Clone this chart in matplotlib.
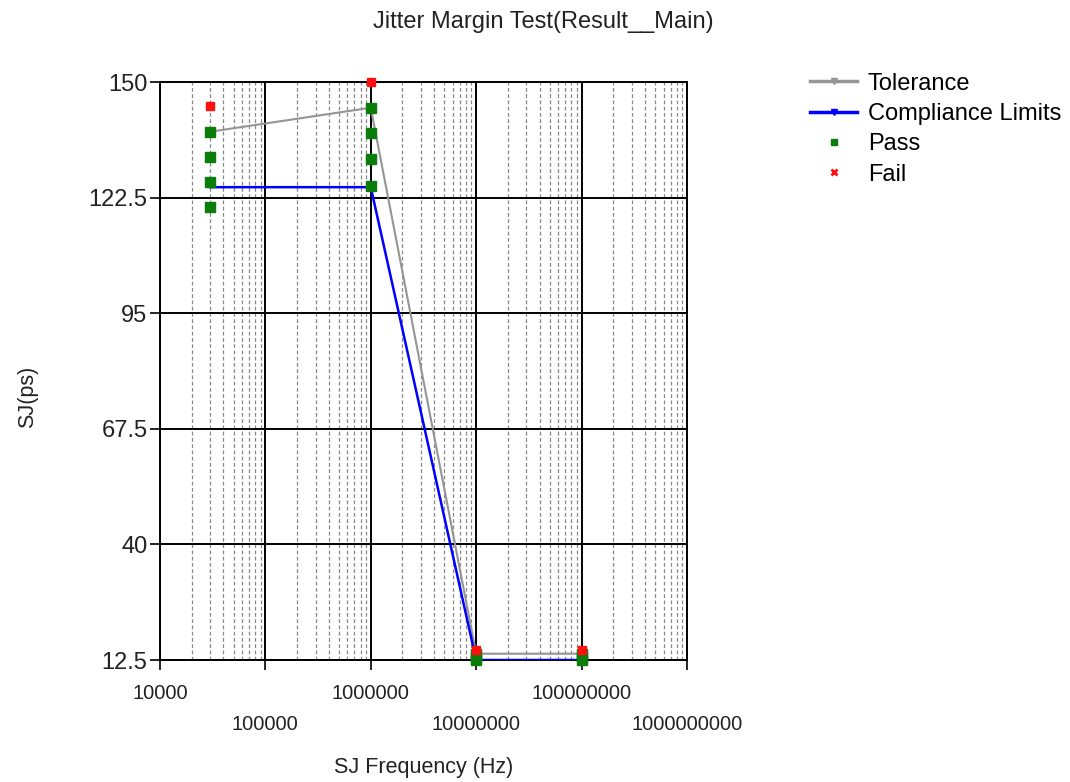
import matplotlib
matplotlib.use("Agg")
import matplotlib.pyplot as plt
from matplotlib.lines import Line2D
from matplotlib.ticker import LogLocator, NullFormatter

plt.rcParams['font.family'] = ['Liberation Sans', 'DejaVu Sans']

##### data
freq = [3e4, 1e6, 1e7, 1e8]
tolerance = [138.2, 143.9, 14.0, 14.0]
compliance = [125.0, 125.0, 12.5, 12.5]

pass_freq = [3e4, 3e4, 3e4, 3e4, 1e6, 1e6, 1e6, 1e6, 1e7, 1e7, 1e7, 1e8, 1e8, 1e8]
pass_sj = [120.2, 126.3, 132.1, 138.2, 125.2, 131.6, 137.8, 143.9,
           12.5, 13.3, 14.0, 12.5, 13.3, 14.0]
fail_freq = [3e4, 1e6, 1e7, 1e8]
fail_sj = [144.3, 150.0, 14.8, 14.8]

y_ticks = [12.5, 40, 67.5, 95, 122.5, 150]
x_ticks = [1e4, 1e5, 1e6, 1e7, 1e8, 1e9]
x_labels = ["10000", "\n100000", "1000000", "\n10000000", "100000000", "\n1000000000"]

##### plot
fig = plt.figure(figsize=(10.7, 7.82), dpi=100)
ax = fig.add_axes([0.1495, 0.156, 0.4925, 0.739])

ax.plot(freq, tolerance, color="#959595", lw=1.5, zorder=3)
ax.plot(freq, compliance, color="#0000ff", lw=1.8, zorder=3)
ax.plot(pass_freq, pass_sj, ls="none", marker="s", ms=6.5, color="#0a7d0a", zorder=4, clip_on=False)
ax.plot(fail_freq, fail_sj, ls="none", marker="s", ms=6, color="#ff1010", zorder=5, clip_on=False)

ax.set_xscale("log")
ax.set_xlim(1e4, 1e9)
ax.set_ylim(12.5, 150)
ax.set_yticks(y_ticks)
ax.set_yticklabels([f"{v:g}" for v in y_ticks])
ax.set_xticks(x_ticks)
ax.set_xticklabels(x_labels)
ax.xaxis.set_minor_locator(LogLocator(base=10, subs=range(2, 10)))
ax.xaxis.set_minor_formatter(NullFormatter())

ax.grid(True, which="major", color="black", lw=1.4)
ax.grid(True, which="minor", axis="x", color="#888888", lw=0.9, ls=(0, (3, 2)))
ax.set_axisbelow(True)
for s in ax.spines.values():
    s.set_color("black")
    s.set_linewidth(1.4)

ax.tick_params(axis="y", which="major", length=7, width=1.2, labelsize=17, pad=2, labelcolor="#222222")
ax.tick_params(axis="x", which="major", length=7, width=1.2, labelsize=14.5, pad=10, labelcolor="#222222")
ax.tick_params(axis="x", which="minor", length=0)
for lab in ax.get_xticklabels():
    lab.set_linespacing(1.85)

ax.set_xlabel("SJ Frequency (Hz)", fontsize=15.5, color="#222222")
ax.xaxis.set_label_coords(0.5, -0.168)
ax.set_ylabel("SJ(ps)", fontsize=15.5, color="#222222")
ax.yaxis.set_label_coords(-0.232, 0.455)
fig.text(0.508, 0.972, "Jitter Margin Test(Result__Main)", ha="center", va="center",
         fontsize=17, color="#222222")

handles = [
    Line2D([], [], color="#959595", lw=2.5, marker="v", ms=4),
    Line2D([], [], color="#0000ff", lw=2.5, marker="v", ms=4),
    Line2D([], [], ls="none", marker="s", ms=5, color="#0a7d0a"),
    Line2D([], [], ls="none", marker="x", ms=5, mew=2, color="#ff1010"),
]
fig.legend(handles, ["Tolerance", "Compliance Limits", "Pass", "Fail"],
           loc="upper left", bbox_to_anchor=(0.757, 0.907), frameon=False,
           fontsize=17, handlelength=2.0, handletextpad=0.45, labelspacing=0.35,
           numpoints=1, borderaxespad=0, borderpad=0)

fig.savefig("out.png", dpi=100)
